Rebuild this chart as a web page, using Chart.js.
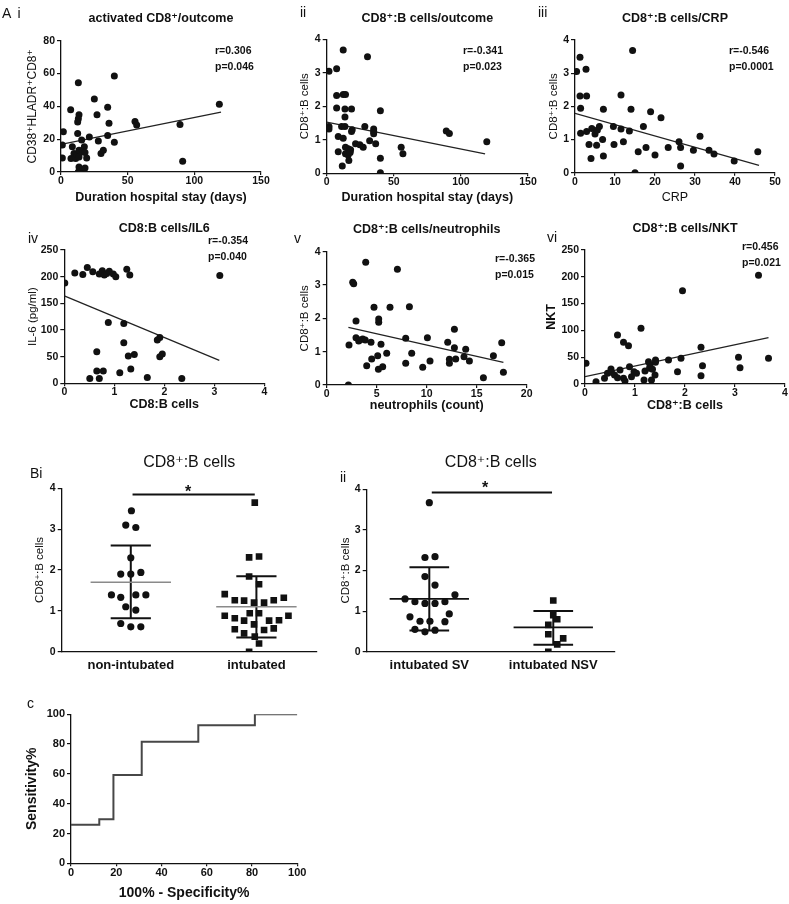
<!DOCTYPE html>
<html>
<head>
<meta charset="utf-8">
<script src="https://cdn.jsdelivr.net/npm/chart.js@4.4.1/dist/chart.umd.min.js"></script>
<style>
  body { margin: 0; background: #fff; }
  #fig { position: relative; width: 789px; height: 904px; overflow: hidden;
         font-family: 'Liberation Sans', Arial, 'DejaVu Sans', sans-serif; color: #111; }
  #fig canvas { position: absolute; }
  .lbl { position: absolute; white-space: nowrap; line-height: 1; }
  .tag { font-size: 14px; word-spacing: 3px; }
  .stat { font-size: 10.5px; font-weight: bold; }
  .star { font-size: 16px; font-weight: bold; }
</style>
</head>
<body>
<div id="fig">
  <canvas id="ai"></canvas>
  <canvas id="aii"></canvas>
  <canvas id="aiii"></canvas>
  <canvas id="aiv"></canvas>
  <canvas id="av"></canvas>
  <canvas id="avi"></canvas>
  <canvas id="bi"></canvas>
  <canvas id="bii"></canvas>
  <canvas id="roc"></canvas>

  <div class="lbl tag" style="left:2px;top:6px">A i</div>
  <div class="lbl tag" style="left:300px;top:5px">ii</div>
  <div class="lbl tag" style="left:538px;top:5px">iii</div>
  <div class="lbl tag" style="left:28px;top:231px">iv</div>
  <div class="lbl tag" style="left:294px;top:231px">v</div>
  <div class="lbl tag" style="left:547px;top:230px">vi</div>
  <div class="lbl tag" style="left:30px;top:466px">Bi</div>
  <div class="lbl tag" style="left:340px;top:470px">ii</div>
  <div class="lbl tag" style="left:27px;top:696px">c</div>

  <div class="lbl stat" style="left:215px;top:45px">r=0.306</div>
  <div class="lbl stat" style="left:215px;top:61px">p=0.046</div>
  <div class="lbl stat" style="left:463px;top:45px">r=-0.341</div>
  <div class="lbl stat" style="left:463px;top:61px">p=0.023</div>
  <div class="lbl stat" style="left:729px;top:45px">r=-0.546</div>
  <div class="lbl stat" style="left:729px;top:61px">p=0.0001</div>
  <div class="lbl stat" style="left:208px;top:235px">r=-0.354</div>
  <div class="lbl stat" style="left:208px;top:251px">p=0.040</div>
  <div class="lbl stat" style="left:495px;top:253px">r=-0.365</div>
  <div class="lbl stat" style="left:495px;top:269px">p=0.015</div>
  <div class="lbl stat" style="left:742px;top:241px">r=0.456</div>
  <div class="lbl stat" style="left:742px;top:257px">p=0.021</div>

  <div class="lbl star" style="left:185px;top:484px">*</div>
  <div class="lbl star" style="left:482px;top:480px">*</div>
</div>

<script>
const FAM = "'Liberation Sans', Arial, 'DejaVu Sans', sans-serif";
const INK = '#111';

// A i - activated CD8+ vs hospital stay
const aiStay = [1.75, 1, 1, 7.25, 7.5, 8.5, 9.75, 11, 11.75, 13, 13.5, 13, 12.5, 12.5, 13.5, 13.5, 13.5, 13, 14.25, 15.5, 17.5, 16.25, 18, 19.25, 18, 21.25, 25, 27, 28, 30, 31.75, 35, 36, 35, 40, 40, 55.5, 56.75, 89.25, 91.25, 118.75];
const aiCD38 = [24.6, 16.4, 8.6, 37.9, 8.2, 15.4, 11.3, 8.2, 10.7, 54.4, 34.9, 32.4, 30.4, 23.4, 13.3, 9.2, 3.1, 0, 1.6, 19.5, 15.4, 12.3, 11.9, 8.6, 2.5, 21.3, 44.5, 34.9, 18.9, 11.3, 13.3, 39.4, 29.7, 22.2, 58.5, 18.1, 30.8, 28.7, 29, 6.5, 41.3];
const aiFitX = [0, 120];
const aiFitY = [16.8, 36.5];

// A ii - CD8:B ratio vs hospital stay
const iiStay = [1.7, 1.7, 1.7, 7.4, 7.4, 7.4, 8.6, 8.6, 12.3, 12.3, 14, 13.6, 18.5, 13.6, 11.1, 13.6, 12.3, 11.6, 14, 16, 17.8, 14, 16, 17.5, 16.5, 19, 18.5, 21.5, 24.7, 27.2, 28.4, 30.4, 32, 35, 35, 35, 36.5, 40, 40, 40, 55.5, 56.8, 89.1, 91.4, 119.3];
const iiRatio = [1.4, 1.32, 3.05, 3.12, 2.32, 1.95, 1.1, 0.64, 3.68, 2.35, 2.35, 1.92, 1.92, 1.68, 1.4, 1.4, 1.05, 0.22, 0.78, 0.73, 0.7, 0.58, 0.55, 0.62, 0.38, 1.3, 1.25, 0.88, 0.85, 0.78, 1.4, 3.48, 0.97, 1.32, 1.25, 1.18, 0.88, 1.87, 0.45, 0.02, 0.78, 0.58, 1.26, 1.19, 0.94];
const iiFitX = [0, 118];
const iiFitY = [1.53, 0.58];

// A iii - CD8:B ratio vs CRP
const iiiCrp = [0.4, 1.25, 1.25, 1.4, 1.4, 2.75, 2.9, 2.9, 3.5, 4, 4.2, 5, 5.4, 5.6, 6.1, 6.9, 7.1, 7.1, 9.6, 9.75, 11.5, 11.5, 12.1, 13.6, 14, 14.4, 15, 15.8, 17.1, 17.75, 18.9, 20, 21.5, 23.3, 26, 26.4, 26.4, 29.6, 31.25, 33.5, 34.75, 39.8, 45.7];
const iiiRatio = [3.05, 3.48, 2.31, 1.94, 1.19, 3.12, 2.31, 1.24, 0.85, 0.43, 1.33, 1.17, 0.83, 1.29, 1.39, 1.0, 1.91, 0.5, 1.39, 0.85, 2.34, 1.32, 0.93, 1.26, 1.91, 3.68, 0, 0.63, 1.39, 0.76, 1.84, 0.53, 1.66, 0.76, 0.93, 0.76, 0.2, 0.68, 1.1, 0.68, 0.56, 0.35, 0.63];
const iiiFitX = [0, 46];
const iiiFitY = [1.79, 0.22];

// A iv - IL-6 vs CD8:B ratio
const ivRatio = [0.01, 0.21, 0.37, 0.46, 0.57, 0.7, 0.76, 0.8, 0.85, 0.9, 0.98, 1.03, 1.25, 1.31, 3.11, 0.65, 0.65, 0.51, 0.7, 0.78, 0.88, 1.19, 1.19, 1.11, 1.28, 1.4, 1.33, 1.66, 1.86, 1.91, 1.91, 1.96, 2.35];
const ivIL6 = [188, 207, 204, 217, 209, 205, 211, 203, 206, 210, 205, 200, 214, 203, 202, 59, 23, 9, 9, 23, 114, 112, 76, 20, 51, 54, 27, 11, 81, 86, 50, 55, 9];
const ivFitX = [0, 3.1];
const ivFitY = [164, 43];

// A v - CD8:B ratio vs neutrophils
const vNeut = [2.17, 2.23, 2.6, 2.7, 2.93, 2.93, 3.3, 3.6, 3.85, 3.2, 4.0, 3.9, 4.43, 4.5, 4.73, 5.1, 5.2, 5.2, 5.17, 5.6, 5.43, 6.0, 6.33, 7.07, 7.9, 7.9, 8.27, 8.5, 9.6, 10.07, 10.33, 12.1, 12.27, 12.27, 12.77, 12.77, 12.9, 13.9, 13.73, 14.27, 15.67, 16.67, 17.5, 17.67];
const vRatio = [0, 1.2, 3.08, 3.04, 1.92, 1.42, 1.35, 1.38, 1.35, 1.32, 0.58, 3.68, 1.28, 0.78, 2.33, 0.88, 1.98, 1.88, 0.47, 0.55, 1.22, 0.95, 2.33, 3.47, 1.4, 0.65, 2.35, 0.95, 0.53, 1.42, 0.72, 1.28, 0.65, 0.77, 1.67, 1.12, 0.78, 1.07, 0.85, 0.72, 0.22, 0.88, 1.27, 0.38];
const vFitX = [2.17, 17.67];
const vFitY = [1.73, 0.68];

// A vi - NKT vs CD8:B ratio
const viRatio = [0.02, 0.22, 0.39, 0.45, 0.52, 0.53, 0.59, 0.65, 0.65, 0.7, 0.77, 0.77, 0.8, 0.87, 0.89, 0.93, 0.98, 1.03, 1.12, 1.18, 1.2, 1.27, 1.29, 1.3, 1.33, 1.35, 1.4, 1.41, 1.41, 1.67, 1.85, 1.92, 1.95, 2.32, 2.35, 2.32, 3.07, 3.1, 3.47, 3.67];
const viNKT = [38.6, 4, 10.6, 20, 28, 21.8, 16.8, 11.8, 91.4, 26, 77.7, 10.6, 5.6, 71.5, 32.3, 13.7, 23, 20, 103.8, 7.5, 24.3, 41.7, 29.2, 35.4, 7.5, 27.4, 16.8, 44.8, 40.4, 44.8, 23, 47.9, 174, 68.4, 34.2, 15.5, 49.8, 30.5, 203, 47.9];
const viFitX = [0, 3.67];
const viFitY = [13.7, 86.4];

// B i - non-intubated vs intubated (x = jitter around the group position)
const biGroups = ['non-intubated', 'intubated'];
const biNonJit = [0.005, -0.04, 0.04, 0, -0.08, 0, 0.08, -0.154, -0.08, 0.04, 0.12, -0.04, 0.04, -0.08, 0, 0.08];
const biNonY = [3.45, 3.1, 3.04, 2.3, 1.9, 1.9, 1.94, 1.39, 1.33, 1.39, 1.39, 1.1, 1.02, 0.69, 0.61, 0.61];
const biIntJit = [-0.013, -0.058, 0.021, -0.058, 0.021, -0.252, -0.172, -0.098, -0.019, 0.061, 0.138, 0.218, -0.053, 0.021, -0.252, 0.255, -0.172, -0.098, 0.101, 0.18, -0.019, -0.172, -0.098, 0.061, 0.138, -0.013, 0.021, -0.058];
const biIntY = [3.65, 2.31, 2.33, 1.84, 1.65, 1.41, 1.26, 1.25, 1.2, 1.2, 1.26, 1.32, 0.94, 0.94, 0.88, 0.88, 0.82, 0.76, 0.76, 0.77, 0.67, 0.55, 0.45, 0.53, 0.57, 0.37, 0.2, 0];
const biMean = [1.7, 1.1];
const biSdHi = [2.6, 1.85];
const biSdLo = [0.82, 0.35];
const biSig = 3.85;

// B ii - intubated survivors vs non-survivors
const biiGroups = ['intubated SV', 'intubated NSV'];
const biiSvJit = [0, -0.035, 0.046, -0.035, 0.046, -0.196, -0.116, -0.035, 0.046, 0.126, 0.207, -0.156, -0.075, 0.005, 0.126, 0.161, -0.116, -0.035, 0.046];
const biiSvY = [3.67, 2.32, 2.34, 1.85, 1.64, 1.3, 1.23, 1.19, 1.19, 1.23, 1.4, 0.86, 0.75, 0.75, 0.74, 0.93, 0.55, 0.49, 0.53];
const biiNsvJit = [0, 0, 0.032, -0.04, -0.04, 0.08, 0.032, -0.04];
const biiNsvY = [1.26, 0.9, 0.8, 0.66, 0.43, 0.33, 0.18, 0];
const biiMean = [1.3, 0.6];
const biiSdHi = [2.08, 1.0];
const biiSdLo = [0.52, 0.17];
const biiSig = 3.92;

// C - ROC curve
const rocFpr = [0, 12.5, 18.75, 31.25, 56.25, 81.25, 100];
const rocSens = [25.9, 29.6, 59.3, 81.5, 92.6, 100, 100];

function zip(xs, ys) {
    return xs.map((x, i) => ({ x: x, y: ys[i] }));
}

function dots(xs, ys, style, r) {
    return {
        type: 'scatter',
        data: zip(xs, ys),
        pointStyle: style || 'circle',
        pointRadius: r || 3.5,
        pointHoverRadius: r || 3.5,
        backgroundColor: INK,
        borderWidth: 0
    };
}

function seg(xs, ys, color, w) {
    return {
        type: 'line',
        data: zip(xs, ys),
        borderColor: color || '#222',
        borderWidth: w || 1.2,
        pointRadius: 0,
        pointHoverRadius: 0,
        fill: false
    };
}

// mean line plus SD whiskers for one group of a dot plot
function summary(c, mean, hi, lo, meanColor) {
    return [
        seg([c - 0.32, c + 0.32], [mean, mean], meanColor, 1.6),
        seg([c - 0.16, c + 0.16], [hi, hi], INK, 2),
        seg([c - 0.16, c + 0.16], [lo, lo], INK, 2),
        seg([c, c], [lo, hi], INK, 2)
    ];
}

function jitter(c, offs) {
    return offs.map(o => c + o);
}

function makeAxis(a, L, T, W, H, isX, area) {
    const f = a.titleFont;
    const lh = f.size * 1.2;
    const axis = {
        type: 'linear',
        min: a.min,
        max: a.max,
        ticks: {
            font: { family: FAM, size: a.tickSize || 10.5, weight: 'bold' },
            color: INK,
            padding: a.pad !== undefined ? a.pad : (isX ? 0 : 2),
            maxRotation: 0,
            autoSkip: false
        },
        grid: {
            drawOnChartArea: false,
            drawTicks: !a.noTicks,
            tickLength: isX ? 3 : 4,
            color: INK,
            lineWidth: 1.2
        },
        border: { color: INK, width: 1.3 },
        title: {
            display: true,
            text: a.title,
            color: INK,
            font: { family: FAM, size: f.size, weight: f.weight, lineHeight: 1.2 }
        }
    };
    if (a.step) axis.ticks.stepSize = a.step;
    if (a.names) {
        axis.afterBuildTicks = s => { s.ticks = a.names.map((n, i) => ({ value: i + 1 })); };
        axis.ticks.callback = v => a.names[Math.round(v) - 1];
    }
    if (isX) {
        axis.title.padding = { top: 0, bottom: (T + H) - a.titleAt - lh / 2 };
        axis.afterFit = s => { s.height = T + H - area[3]; };
    } else {
        axis.title.padding = { top: a.titleAt - L - lh / 2, bottom: 0 };
        axis.afterFit = s => { s.width = area[0] - L; };
    }
    return axis;
}

function panel(id, p) {
    const [L, T, W, H] = p.box;
    const area = p.area;
    const cv = document.getElementById(id);
    cv.width = W;
    cv.height = H;
    cv.style.left = L + 'px';
    cv.style.top = T + 'px';

    const tf = p.titleFont || { size: 12.5, weight: 'bold' };
    const tlh = tf.size * 1.2;
    const title = p.title ? {
        display: true,
        text: p.title,
        fullSize: false,
        color: INK,
        font: { family: FAM, size: tf.size, weight: tf.weight, lineHeight: 1.2 },
        padding: { top: p.titleY - T - tlh / 2, bottom: area[1] - p.titleY - tlh / 2 }
    } : { display: false };

    new Chart(cv, {
        type: 'scatter',
        data: { datasets: p.datasets },
        options: {
            responsive: false,
            animation: false,
            devicePixelRatio: 1,
            layout: {
                padding: { left: 0, bottom: 0, right: L + W - area[2], top: p.title ? 0 : area[1] - T }
            },
            plugins: {
                legend: { display: false },
                tooltip: { enabled: false },
                title: title
            },
            scales: {
                x: makeAxis(p.x, L, T, W, H, true, area),
                y: makeAxis(p.y, L, T, W, H, false, area)
            }
        }
    });
}

const XT = { size: 12.5, weight: 'bold' };
const YT = { size: 11.5, weight: 'normal' };

panel('ai', {
    box: [0, 0, 275, 208], area: [61, 40.7, 261, 172],
    title: 'activated CD8\u207A/outcome', titleY: 18.5,
    x: { min: 0, max: 150, step: 50, title: 'Duration hospital stay (days)', titleFont: XT, titleAt: 198 },
    y: { min: 0, max: 80, step: 20, title: 'CD38\u207AHLADR\u207ACD8\u207A', titleFont: { size: 12, weight: 'normal' }, titleAt: 33 },
    datasets: [dots(aiStay, aiCD38), seg(aiFitX, aiFitY)]
});

panel('aii', {
    box: [285, 0, 255, 208], area: [326.7, 39.3, 528, 173.3],
    title: 'CD8\u207A:B cells/outcome', titleY: 19,
    x: { min: 0, max: 150, step: 50, title: 'Duration hospital stay (days)', titleFont: XT, titleAt: 198 },
    y: { min: 0, max: 4, step: 1, title: 'CD8\u207A:B cells', titleFont: YT, titleAt: 305 },
    datasets: [dots(iiStay, iiRatio), seg(iiFitX, iiFitY)]
});

panel('aiii', {
    box: [535, 0, 254, 208], area: [575, 40, 775, 172.7],
    title: 'CD8\u207A:B cells/CRP', titleY: 19,
    x: { min: 0, max: 50, step: 10, title: 'CRP', titleFont: { size: 12.5, weight: 'normal' }, titleAt: 198 },
    y: { min: 0, max: 4, step: 1, title: 'CD8\u207A:B cells', titleFont: YT, titleAt: 554 },
    datasets: [dots(iiiCrp, iiiRatio), seg(iiiFitX, iiiFitY)]
});

panel('aiv', {
    box: [0, 210, 275, 205], area: [64.3, 250, 264.3, 383.3],
    title: 'CD8:B cells/IL6', titleY: 229,
    x: { min: 0, max: 4, step: 1, title: 'CD8:B cells', titleFont: XT, titleAt: 405 },
    y: { min: 0, max: 250, step: 50, title: 'IL-6 (pg/ml)', titleFont: YT, titleAt: 33 },
    datasets: [dots(ivRatio, ivIL6), seg(ivFitX, ivFitY)]
});

panel('av', {
    box: [285, 210, 255, 205], area: [326.7, 251.7, 526.7, 385],
    title: 'CD8\u207A:B cells/neutrophils', titleY: 230,
    x: { min: 0, max: 20, step: 5, title: 'neutrophils (count)', titleFont: XT, titleAt: 406 },
    y: { min: 0, max: 4, step: 1, title: 'CD8\u207A:B cells', titleFont: YT, titleAt: 305 },
    datasets: [dots(vNeut, vRatio), seg(vFitX, vFitY)]
});

panel('avi', {
    box: [535, 210, 254, 205], area: [585, 250, 785, 384],
    title: 'CD8\u207A:B cells/NKT', titleY: 229,
    x: { min: 0, max: 4, step: 1, title: 'CD8\u207A:B cells', titleFont: XT, titleAt: 406 },
    y: { min: 0, max: 250, step: 50, title: 'NKT', titleFont: XT, titleAt: 552 },
    datasets: [dots(viRatio, viNKT), seg(viFitX, viFitY)]
});

panel('bi', {
    box: [0, 430, 335, 245], area: [61.7, 488.3, 316.7, 651.7],
    title: 'CD8\u207A:B cells', titleY: 463, titleFont: { size: 16, weight: 'normal' },
    x: { min: 0.45, max: 2.48, names: biGroups, noTicks: true, pad: 6, tickSize: 13, title: '', titleFont: XT, titleAt: 690 },
    y: { min: 0, max: 4, step: 1, title: 'CD8\u207A:B cells', titleFont: YT, titleAt: 40 },
    datasets: [
        dots(jitter(1, biNonJit), biNonY, 'circle', 3.6),
        dots(jitter(2, biIntJit), biIntY, 'rect', 4.7),
        ...summary(1, biMean[0], biSdHi[0], biSdLo[0], '#8a8a8a'),
        ...summary(2, biMean[1], biSdHi[1], biSdLo[1], '#8a8a8a'),
        seg([1.014, 1.987], [biSig, biSig], INK, 2)
    ]
});

panel('bii', {
    box: [330, 430, 300, 245], area: [366.7, 489.3, 615, 651.7],
    title: 'CD8\u207A:B cells', titleY: 463, titleFont: { size: 16, weight: 'normal' },
    x: { min: 0.495, max: 2.498, names: biiGroups, noTicks: true, pad: 6, tickSize: 13, title: '', titleFont: XT, titleAt: 690 },
    y: { min: 0, max: 4, step: 1, title: 'CD8\u207A:B cells', titleFont: YT, titleAt: 346 },
    datasets: [
        dots(jitter(1, biiSvJit), biiSvY, 'circle', 3.6),
        dots(jitter(2, biiNsvJit), biiNsvY, 'rect', 4.7),
        ...summary(1, biiMean[0], biiSdHi[0], biiSdLo[0], INK),
        ...summary(2, biiMean[1], biiSdHi[1], biiSdLo[1], INK),
        seg([1.02, 1.99], [biiSig, biiSig], INK, 2)
    ]
});

// step curve: horizontal run first, then the rise
const rocLine = seg(rocFpr, rocSens, '#474747', 2);
rocLine.stepped = 'before';
panel('roc', {
    box: [0, 690, 320, 214], area: [71, 714.3, 297.3, 863.3],
    x: { min: 0, max: 100, step: 20, tickSize: 11, title: '100% - Specificity%', titleFont: { size: 14, weight: 'bold' }, titleAt: 893 },
    y: { min: 0, max: 100, step: 20, tickSize: 11, title: 'Sensitivity%', titleFont: { size: 14, weight: 'bold' }, titleAt: 32 },
    datasets: [rocLine]
});
</script>
</body>
</html>
